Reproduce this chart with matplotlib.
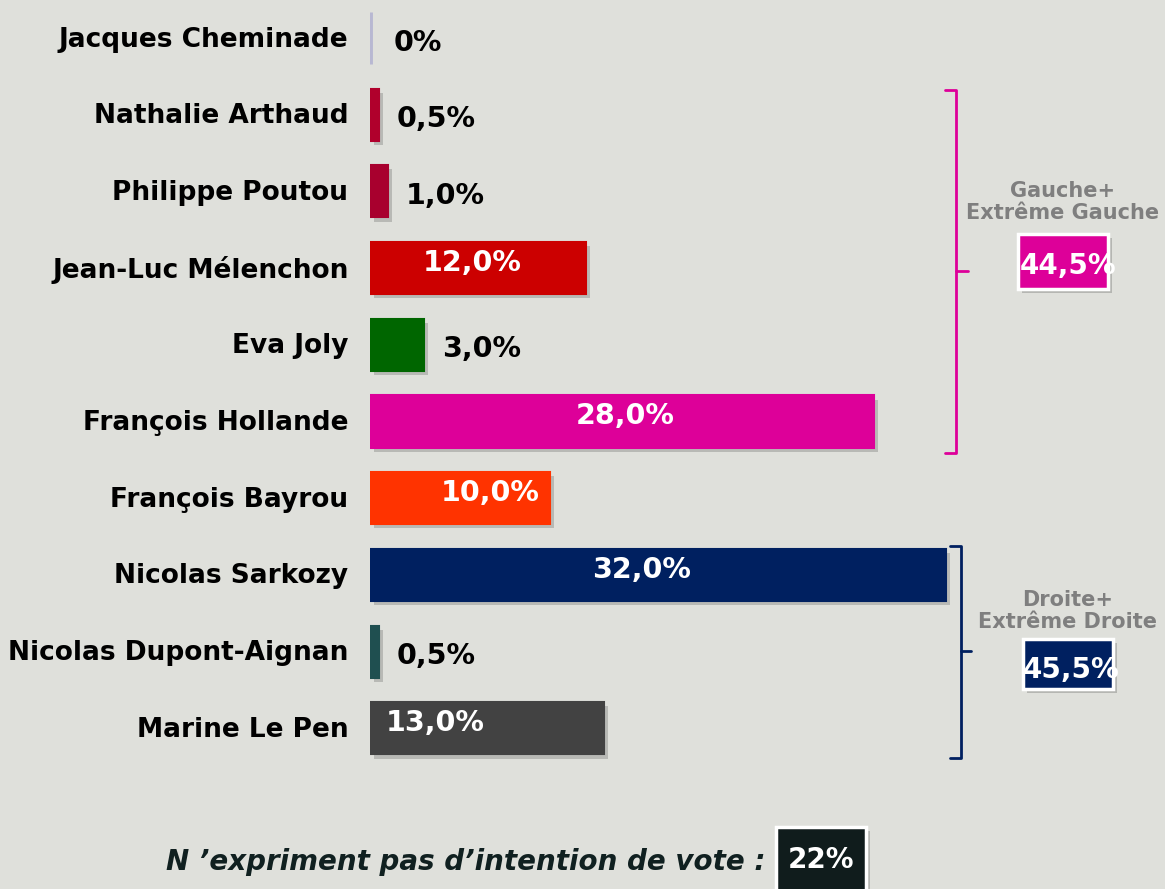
import matplotlib
matplotlib.use("Agg")
from matplotlib import pyplot as plt
from matplotlib import patheffects as pe
from matplotlib.patches import Rectangle
import numpy as np

candidates = ["Jacques Cheminade", "Nathalie Arthaud", "Philippe Poutou",
              "Jean-Luc Mélenchon", "Eva Joly", "François Hollande",
              "François Bayrou", "Nicolas Sarkozy", "Nicolas Dupont-Aignan",
              "Marine Le Pen"]
scores = [0, 0.5, 1.0, 12.0, 3.0, 28.0, 10.0, 32.0, 0.5, 13.0]
score_labels = ["0%", "0,5%", "1,0%", "12,0%", "3,0%", "28,0%", "10,0%",
                "32,0%", "0,5%", "13,0%"]
colors = ["#B8B8D2", "#B0002C", "#A8002E", "#CC0000", "#006600", "#DD0099",
          "#FF3300", "#002060", "#1F4F50", "#424242"]

groups = ["Gauche+\nExtrême Gauche", "Droite+\nExtrême Droite"]
group_totals = ["44,5%", "45,5%"]
group_colors = ["#DD0099", "#002060"]
no_vote_label = "N \u2019expriment pas d\u2019intention de vote :"
no_vote_total = "22%"

bg = "#DFE0DB"
W, H = 1165, 889
fig = plt.figure(figsize=(W / 100, H / 100), dpi=100, facecolor=bg)

# axes: 18 px per point, rows 76.7 px apart
px_unit = 18.0
row = 76.7
ax = fig.add_axes([370 / W, 0, (W - 370) / W, 1])
ax.set_facecolor(bg)
ax.set_xlim(0, (W - 370) / px_unit)
ax.set_ylim((H - 38) / row, -38 / row)
ax.axis("off")

y = np.arange(len(candidates))
shadow = [pe.withSimplePatchShadow(offset=(3, -3), shadow_rgbFace="#555555", alpha=0.28)]
bars = ax.barh(y, scores, height=0.68, color=colors, edgecolor=colors,
               linewidth=1.5)
bars[0].set_linewidth(3.5)
for b in bars:
    b.set_path_effects(shadow)

# positions of labels inside the big bars (as in the original slide)
inside_x = {3: 5.67, 5: 14.2, 6: 6.67, 7: 15.1, 9: 3.6}

for i, (name, v, lab) in enumerate(zip(candidates, scores, score_labels)):
    ax.text(-1.2, i + 0.02, name, ha="right", va="center", fontsize=19,
            fontweight="bold", color="black", clip_on=False)
    if i in inside_x:
        ax.text(inside_x[i], i - 0.07, lab, ha="center", va="center",
                fontsize=20.5, fontweight="bold", color="white")
    else:
        ax.text(v + (1.3 if v == 0 else 1.0), i + 0.06, lab, ha="left",
                va="center", fontsize=20.5, fontweight="bold", color="black")


def bracket(x0, x1, xm, top, bottom, mid, color):
    kw = dict(color=color, lw=2, clip_on=False, solid_capstyle="round")
    ax.plot([x0, x1, x1, x0], [top, top, bottom, bottom], **kw)
    ax.plot([x1, xm], [mid, mid], **kw)


def px_x(p):
    return (p - 370) / px_unit


def px_y(p):
    return (p - 38) / row


bracket(px_x(945), px_x(956), px_x(968), px_y(90), px_y(453), px_y(271), group_colors[0])
bracket(px_x(950), px_x(961), px_x(971), px_y(546), px_y(758), px_y(651), group_colors[1])


def boxed(x0, y0, x1, y1, color, text, tx, ty, size, family=None):
    r = Rectangle((x0 / W, 1 - y1 / H), (x1 - x0) / W, (y1 - y0) / H,
                  transform=fig.transFigure, facecolor=color,
                  edgecolor="white", linewidth=2.5, clip_on=False)
    r.set_path_effects([pe.withSimplePatchShadow(offset=(3, -3),
                                                 shadow_rgbFace="#555555",
                                                 alpha=0.3)])
    fig.patches.append(r)
    kw = {} if family is None else {"family": family}
    fig.text(tx / W, 1 - ty / H, text, ha="center", va="center",
             fontsize=size, fontweight="bold", color="white", **kw)


# group labels with boxed totals
fig.text(1063 / W, 1 - 202 / H, groups[0], ha="center", va="center",
         fontsize=15, fontweight="bold", color="#7F7F7F", linespacing=1.15)
boxed(1018, 234, 1108, 289, group_colors[0], group_totals[0], 1068, 266, 20)

fig.text(1068 / W, 1 - 611 / H, groups[1], ha="center", va="center",
         fontsize=15, fontweight="bold", color="#7F7F7F", linespacing=1.15)
boxed(1023, 639, 1113, 689, group_colors[1], group_totals[1], 1071, 670, 20)

fig.text(766 / W, 1 - 862 / H, no_vote_label, ha="right", va="center",
         fontsize=20, fontweight="bold", style="italic", color="#102020")
boxed(776, 827, 866, 895, "#101C1C", no_vote_total, 821, 860, 20)

fig.savefig("out.png", dpi=100, facecolor=bg)
